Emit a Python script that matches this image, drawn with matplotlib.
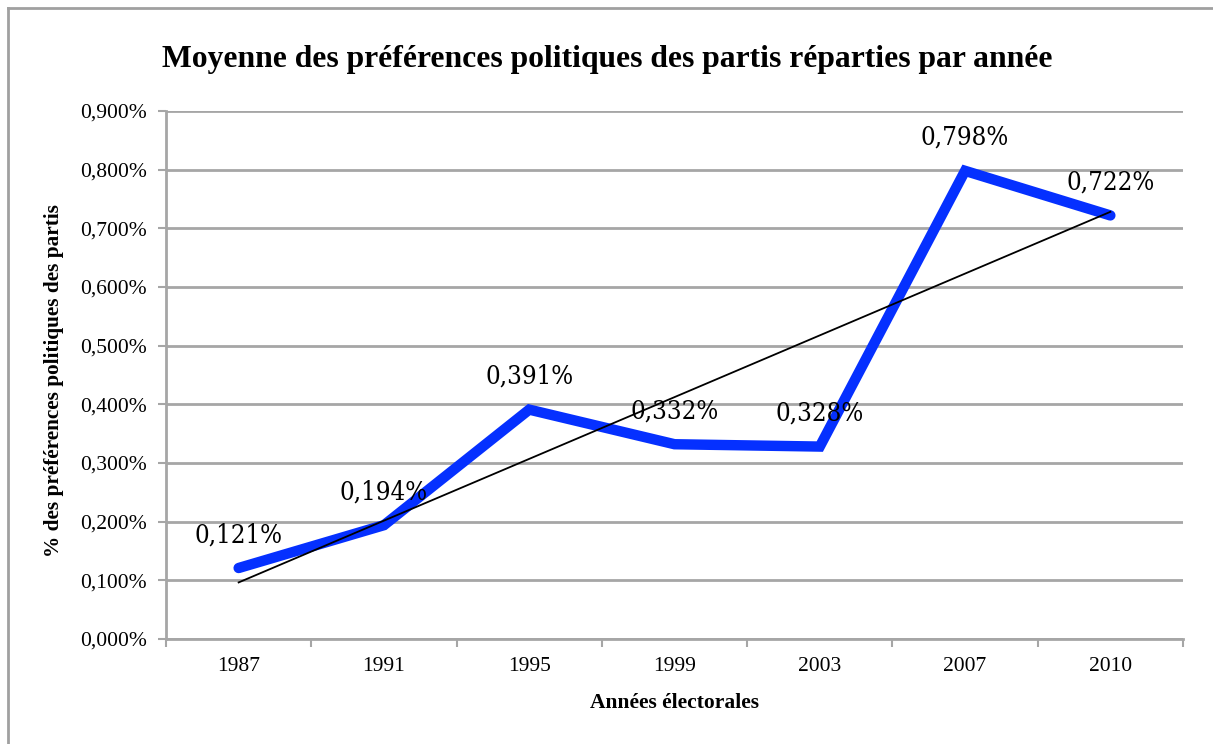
import numpy as np
import matplotlib
matplotlib.use("Agg")
import matplotlib.pyplot as plt
import matplotlib.ticker as ticker
from matplotlib.lines import Line2D

# ── Data ─────────────────────────────────────────────────────────────────────
years = ["1987", "1991", "1995", "1999", "2003", "2007", "2010"]
pref = [0.121, 0.194, 0.391, 0.332, 0.328, 0.798, 0.722]   # in %
y_ticks = [0.0, 0.1, 0.2, 0.3, 0.4, 0.5, 0.6, 0.7, 0.8, 0.9]

LINE_COLOR = "#0530FF"
GRID_COLOR = "#A6A6A6"
SERIF = "Liberation Serif"

plt.rcParams["font.family"] = SERIF

fig = plt.figure(figsize=(12.13, 7.44), dpi=100)
ax = fig.add_axes([166 / 1213, 105 / 744, (1183 - 166) / 1213, (639 - 111) / 744])

x = np.arange(len(years))
ax.plot(x, pref, color=LINE_COLOR, linewidth=7.5, solid_capstyle="round",
        solid_joinstyle="miter", zorder=3)

# linear trend line
slope, icpt = np.polyfit(x, pref, 1)
ax.plot(x, slope * x + icpt, color="black", linewidth=1.3, zorder=4)

# data labels
for xi, v in zip(x, pref):
    ax.annotate(f"{v:.3f}%".replace(".", ","), (xi, v), xytext=(0, 24),
                textcoords="offset points", ha="center", va="center",
                fontsize=18.5, family="DejaVu Serif", fontstretch="condensed",
                zorder=5)

# ── Axes styling ─────────────────────────────────────────────────────────────
ax.set_xlim(-0.5, len(years) - 0.5)
ax.set_ylim(0, 0.9)
ax.set_yticks(y_ticks)
ax.yaxis.set_major_formatter(ticker.FuncFormatter(
    lambda v, _: f"{v:.3f}%".replace(".", ",")))
ax.yaxis.grid(True, color=GRID_COLOR, linewidth=2)
ax.set_axisbelow(True)

ax.set_xticks(np.arange(-0.5, len(years)), minor=False)
ax.set_xticklabels([])
ax.set_xticks(x, minor=True)
ax.set_xticklabels(years, minor=True)
ax.tick_params(axis="x", which="minor", length=0, pad=13, labelsize=15.5)
ax.tick_params(axis="x", which="major", length=6, width=1.5, color=GRID_COLOR)
ax.tick_params(axis="y", length=6, width=1.5, color=GRID_COLOR, labelsize=15.5, pad=8)

for side in ("top", "right"):
    ax.spines[side].set_visible(False)
for side in ("left", "bottom"):
    ax.spines[side].set_color(GRID_COLOR)
    ax.spines[side].set_linewidth(2)

ax.set_xlabel("Années électorales", fontsize=15.5, fontweight="bold", labelpad=12)
ax.set_ylabel("% des préférences politiques des partis", fontsize=15.3,
              fontweight="bold")
ax.yaxis.set_label_coords(-0.100, 0.49)

fig.text(607 / 1213, 1 - 59 / 744,
         "Moyenne des préférences politiques des partis réparties par année",
         ha="center", va="center", fontsize=22.8, fontweight="bold")

# chart-area border (only left and top edges fall inside the image)
fig.add_artist(Line2D([8 / 1213, 8 / 1213], [0, 1 - 8 / 744],
                      transform=fig.transFigure, color="#A0A0A0", linewidth=2))
fig.add_artist(Line2D([8 / 1213, 1], [1 - 8 / 744, 1 - 8 / 744],
                      transform=fig.transFigure, color="#A0A0A0", linewidth=2))

fig.savefig("out.png", dpi=100, facecolor="white")
